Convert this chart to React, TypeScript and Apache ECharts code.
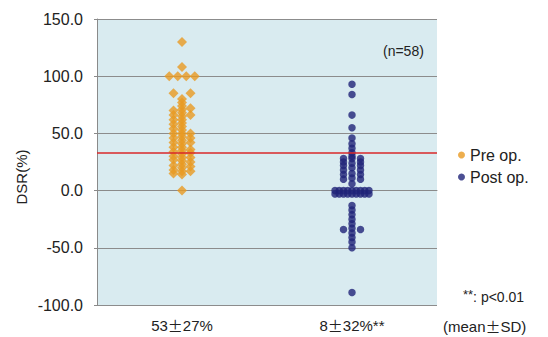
import React, { useEffect, useRef } from "react";
import * as echarts from "echarts";

// Category labels (mean ± SD per group)
const CATEGORIES = ["53±27%", "8±32%**"];
const SERIES_NAMES = ["Pre op.", "Post op."];

// Y axis ticks
const Y_MIN = -100;
const Y_MAX = 150;
const Y_INTERVAL = 50;

// Reference line value (red)
const REF_LINE = 33;

// Pre op points: [horizontal slot in the swarm, DSR value %]
const PRE_OP: Array<[number, number]> = [
  [0, 130], [0, 108],
  [-3, 100], [-1, 100], [1, 100], [3, 100],
  [-2, 85], [2, 85],
  [0, 80], [0, 77], [0, 74], [0, 71], [0, 68], [0, 65], [0, 62], [0, 59],
  [0, 56], [0, 53], [0, 50], [0, 47], [0, 44], [0, 41], [0, 38], [0, 35],
  [0, 32], [0, 29], [0, 26], [0, 23], [0, 20], [0, 17], [0, 14], [0, 0],
  [-2, 70], [-2, 66], [-2, 62], [-2, 58], [-2, 54], [-2, 50], [-2, 46],
  [-2, 42], [-2, 38], [-2, 34], [-2, 30], [-2, 27], [-2, 22], [-2, 18], [-2, 15],
  [2, 72], [2, 66], [2, 50], [2, 46], [2, 42], [2, 36], [2, 33], [2, 29],
  [2, 25], [2, 21], [2, 17],
];

// Post op points: [horizontal slot in the swarm, DSR value %]
const POST_OP: Array<[number, number]> = [
  [0, 93], [0, 84], [0, 66], [0, 55], [0, 46], [0, 41], [0, 37], [0, 33],
  [0, 30], [0, 28], [0, 24], [0, 20], [0, 15], [0, 11], [0, 6],
  [-2, 28], [-2, 25], [-2, 22], [-2, 18], [-2, 14], [-2, 10],
  [2, 28], [2, 25], [2, 22], [2, 18], [2, 14], [2, 10],
  [-4, 0], [-3, 0], [-2, 0], [-1, 0], [0, 0], [1, 0], [2, 0], [3, 0], [4, 0],
  [-4, -3], [-3, -3], [-2, -3], [-1, -3], [0, -3], [1, -3], [2, -3], [3, -3], [4, -3],
  [0, -13], [0, -17], [0, -21], [0, -25], [0, -29], [0, -33], [0, -37],
  [0, -41], [0, -45], [0, -50], [0, -89],
  [-2, -34], [2, -34],
];

const SLOT_WIDTH = 0.05;
const COLORS = ["#e99a22", "#1f2378"];
const FONT = "'Liberation Sans', Arial, sans-serif";

export default function App() {
  const ref = useRef<HTMLDivElement>(null);

  useEffect(() => {
    if (!ref.current) return;
    const chart = echarts.init(ref.current, null, { renderer: "svg" });
    const toXY = (groupIndex: number, pts: Array<[number, number]>) =>
      pts.map(([slot, v]) => [groupIndex * 2 + 1 + slot * SLOT_WIDTH, v]);

    const labelFormatter = (v: string) => {
      const parts = v.split("±");
      return `{a|${parts[0]}}{pm|±}{a|${parts[1]}}`;
    };

    chart.setOption({
      animation: false,
      backgroundColor: "#ffffff",
      textStyle: { fontFamily: FONT },
      grid: {
        left: 97,
        right: 111,
        top: 19,
        bottom: 32,
        show: true,
        backgroundColor: "#d9ebf0",
        borderWidth: 0,
      },
      legend: {
        orient: "vertical",
        left: 453,
        top: 142,
        itemWidth: 7,
        itemHeight: 7,
        itemGap: 6,
        textStyle: { fontSize: 16, color: "#222", fontFamily: FONT },
        data: SERIES_NAMES.map((n) => ({ name: n, icon: "circle" })),
      },
      xAxis: [
        {
          type: "category",
          data: CATEGORIES,
          boundaryGap: true,
          axisLine: { show: true, lineStyle: { color: "#8a8a8a" } },
          axisTick: { show: false },
          axisLabel: {
            margin: 13,
            formatter: labelFormatter,
            rich: {
              a: { fontSize: 15, color: "#222", fontFamily: FONT },
              pm: { fontSize: 15, color: "#222", fontFamily: "'Noto Sans CJK JP'" },
            },
          },
          splitLine: { show: false },
        },
        {
          type: "value",
          min: 0,
          max: 4,
          show: false,
        },
      ],
      yAxis: {
        type: "value",
        min: Y_MIN,
        max: Y_MAX,
        interval: Y_INTERVAL,
        axisLine: { show: true, lineStyle: { color: "#8a8a8a" } },
        axisTick: { show: true, length: 3, inside: false, lineStyle: { color: "#8a8a8a" } },
        axisLabel: {
          margin: 14,
          fontSize: 16,
          color: "#222",
          formatter: (v: number) => v.toFixed(1),
        },
        splitLine: { show: true, lineStyle: { color: "#8c8c8c", width: 1 } },
      },
      series: [
        {
          name: SERIES_NAMES[0],
          type: "scatter",
          xAxisIndex: 1,
          symbol: "diamond",
          symbolSize: 10,
          itemStyle: { color: COLORS[0] },
          data: toXY(0, PRE_OP),
          markLine: {
            silent: true,
            symbol: ["none", "none"],
            label: { show: false },
            lineStyle: { color: "#d8282a", width: 1.5, type: "solid" },
            data: [{ yAxis: REF_LINE }],
          },
        },
        {
          name: SERIES_NAMES[1],
          type: "scatter",
          xAxisIndex: 1,
          symbol: "circle",
          symbolSize: 7.5,
          itemStyle: { color: COLORS[1] },
          data: toXY(1, POST_OP),
        },
      ],
      graphic: [
        {
          type: "text",
          x: 21,
          y: 177,
          rotation: Math.PI / 2,
          style: {
            text: "DSR(%)",
            fontSize: 15,
            fontFamily: FONT,
            fill: "#222",
            align: "center",
            verticalAlign: "middle",
          },
        },
        {
          type: "text",
          x: 383,
          y: 51,
          style: {
            text: "(n=58)",
            fontSize: 14,
            fontFamily: FONT,
            fill: "#222",
            align: "left",
            verticalAlign: "middle",
          },
        },
        {
          type: "text",
          x: 463,
          y: 297,
          style: {
            text: "{s|**}{t|: p<0.01}",
            verticalAlign: "middle",
            align: "left",
            rich: {
              s: { fontSize: 13, fill: "#222", fontFamily: FONT, verticalAlign: "top", padding: [0, 0, 6, 0] },
              t: { fontSize: 14, fill: "#222", fontFamily: FONT },
            },
          },
        },
        {
          type: "text",
          x: 443,
          y: 326,
          style: {
            text: "(mean{pm|±}SD)",
            fontSize: 15,
            fontFamily: FONT,
            fill: "#222",
            align: "left",
            verticalAlign: "middle",
            rich: {
              pm: { fontSize: 15, fill: "#222", fontFamily: "'Noto Sans CJK JP'" },
            },
          },
        },
      ],
    });
    return () => chart.dispose();
  }, []);

  return (
    <div
      ref={ref}
      style={{ position: "fixed", left: 0, top: 0, width: 548, height: 337 }}
    />
  );
}
